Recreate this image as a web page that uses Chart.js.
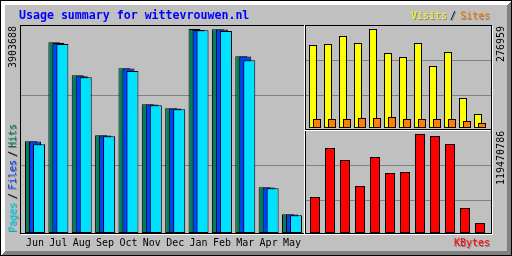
<!DOCTYPE html>
<html>
<head>
<meta charset="utf-8">
<script src="https://cdn.jsdelivr.net/npm/chart.js@4/dist/chart.umd.min.js"></script>
<style>
  html, body { margin: 0; padding: 0; background: #c0c0c0; }
  #wrap { position: relative; width: 512px; height: 256px; overflow: hidden; font-family: "DejaVu Sans Mono", "Liberation Mono", monospace; }
  canvas { position: absolute; left: 0; top: 0; }
  .t { position: absolute; white-space: pre; font-size: 10px; line-height: 13px; }
  .up { transform-origin: 0 0; transform: rotate(-90deg); }
  .sh { text-shadow: 1px 1px 0 #808080; }
  .up.sh { text-shadow: -1px 1px 0 #808080; }
  .slash { padding: 0 3px; }
</style>
</head>
<body>
<div id="wrap">
  <canvas id="main" width="512" height="256"></canvas>
  <canvas id="visits" width="512" height="256"></canvas>
  <canvas id="kbytes" width="512" height="256"></canvas>
</div>
<script>
// Webalizer style yearly usage summary, redrawn with Chart.js.

const months = ["Jun", "Jul", "Aug", "Sep", "Oct", "Nov", "Dec", "Jan", "Feb", "Mar", "Apr", "May"];
const hits   = [1754700, 3649200, 3017700, 1869600, 3151600, 2462800, 2386200, 3903688, 3897900, 3381300, 874500, 357800];
const files  = [1750000, 3635800, 2998600, 1865700, 3147800, 2458900, 2382400, 3884500, 3894100, 3377500, 870700, 354000];
const pages  = [1697300, 3616600, 2979400, 1850400, 3100000, 2443600, 2367100, 3878800, 3865400, 3304700, 855400, 338700];
const visits = [232200, 235000, 257400, 237800, 276959, 209800, 198600, 237800, 173500, 212600, 83900, 39200];
const sites  = [25200, 25200, 25200, 28000, 28000, 30800, 25200, 25200, 25200, 25200, 19600, 14000];
const kbytes = [43443900, 102575900, 88094600, 56718400, 91714900, 72406500, 73613300, 119470786, 117057200, 107403000, 30169400, 12067800];

const GREY = "#c0c0c0", DKGREY = "#808080", WHITE = "#ffffff", BLACK = "#000000";
const FONT = '"DejaVu Sans Mono", "Liberation Mono", monospace';

// plot areas in page pixels (bars grow up from .bottom, the max value reaches .top)
const MAIN = { left: 23.32, right: 303.68, top: 29, bottom: 233 };
const VIS  = { left: 307.5, right: 487.5, top: 29, bottom: 128 };
const KB   = { left: 307.5, right: 487.5, top: 134, bottom: 233 };

function hline(ctx, x1, x2, y, c) { ctx.fillStyle = c; ctx.fillRect(x1, y, x2 - x1 + 1, 1); }
function vline(ctx, x, y1, y2, c) { ctx.fillStyle = c; ctx.fillRect(x, y1, 1, y2 - y1 + 1); }

// grey card, bevel, inner frame, section lines and index lines
const framePlugin = {
  id: "frame",
  beforeDraw(chart) {
    const ctx = chart.ctx;
    ctx.save();
    ctx.fillStyle = GREY;
    ctx.fillRect(0, 0, 512, 256);
    for (let i = 0; i < 5; i++) {
      hline(ctx, i, 511 - i, i, WHITE);
      vline(ctx, i, i, 255 - i, WHITE);
      hline(ctx, i + 1, 511 - i, 255 - i, DKGREY);
      vline(ctx, 511 - i, i + 1, 255 - i, DKGREY);
    }
    ctx.strokeStyle = BLACK;
    ctx.lineWidth = 1;
    ctx.strokeRect(0.5, 0.5, 511, 255);

    // inner frame
    hline(ctx, 20, 491, 25, BLACK);
    vline(ctx, 20, 25, 233, BLACK);
    vline(ctx, 491, 25, 233, BLACK);
    hline(ctx, 20, 491, 233, BLACK);
    vline(ctx, 492, 26, 234, WHITE);
    hline(ctx, 21, 492, 234, WHITE);

    // section lines
    vline(ctx, 305, 25, 233, BLACK);
    vline(ctx, 304, 25, 233, WHITE);
    hline(ctx, 305, 490, 129, BLACK);
    hline(ctx, 305, 490, 130, WHITE);

    // index lines
    hline(ctx, 21, 303, 95, DKGREY);
    hline(ctx, 21, 303, 165, DKGREY);
    hline(ctx, 306, 490, 60, DKGREY);
    hline(ctx, 306, 490, 95, DKGREY);
    hline(ctx, 306, 490, 165, DKGREY);
    hline(ctx, 306, 490, 200, DKGREY);
    ctx.restore();
  }
};

// Chart.js paints dataset 0 last (on top); webalizer paints the later series over the earlier ones
const paintInOrder = {
  id: "paintInOrder",
  beforeDatasetsDraw(chart) {
    for (let i = 0; i < chart.data.datasets.length; i++) {
      chart.getDatasetMeta(i).controller.draw();
    }
    return false;
  }
};

function bar(data, color) {
  return { data, backgroundColor: color, borderColor: BLACK, borderWidth: 1, borderSkipped: false, clip: false };
}

function padFor(a, bottomAxis) {
  return { left: a.left, right: 512 - a.right, top: a.top, bottom: 256 - a.bottom - bottomAxis };
}

const baseOpts = {
  responsive: false,
  animation: false,
  events: [],
  plugins: { legend: { display: false }, tooltip: { enabled: false } }
};

// Hits / Files / Pages: bars 12px wide, each series shifted 4px
const mainCat = (MAIN.right - MAIN.left) / months.length;
new Chart(document.getElementById("main"), {
  type: "bar",
  data: {
    labels: months,
    datasets: [bar(hits, "#00805c"), bar(files, "#0040ff"), bar(pages, "#00e0ff")]
  },
  options: {
    ...baseOpts,
    layout: { padding: padFor(MAIN, 23) },
    datasets: { bar: { categoryPercentage: 12 / mainCat, barPercentage: 3 } },
    scales: {
      x: {
        type: "category",
        offset: true,
        grid: { display: false, drawTicks: false },
        border: { display: false },
        ticks: { color: BLACK, font: { family: FONT, size: 10 }, padding: 4, maxRotation: 0, autoSkip: false },
        afterFit: (s) => { s.height = 23; }
      },
      y: { display: false, min: 0, max: Math.max(...hits) }
    }
  },
  plugins: [framePlugin, paintInOrder]
});

// Visits / Sites: 8px bars, 4px shift
const sideCat = (VIS.right - VIS.left) / months.length;
new Chart(document.getElementById("visits"), {
  type: "bar",
  data: { labels: months, datasets: [bar(visits, "#ffff00"), bar(sites, "#ff8000")] },
  options: {
    ...baseOpts,
    layout: { padding: padFor(VIS, 0) },
    datasets: { bar: { categoryPercentage: 8 / sideCat, barPercentage: 2 } },
    scales: {
      x: { display: false, offset: true },
      y: { display: false, min: 0, max: Math.max(...visits) }
    }
  },
  plugins: [paintInOrder]
});

// KBytes: 10px bars
new Chart(document.getElementById("kbytes"), {
  type: "bar",
  data: { labels: months, datasets: [bar(kbytes, "#ff0000")] },
  options: {
    ...baseOpts,
    layout: { padding: padFor(KB, 0) },
    datasets: { bar: { categoryPercentage: 1, barPercentage: 10 / sideCat } },
    scales: {
      x: { display: false, offset: true },
      y: { display: false, min: 0, max: Math.max(...kbytes) }
    }
  }
});

// texts
const wrap = document.getElementById("wrap");
function text(str, x, y, color, cls, extra) {
  const d = document.createElement("div");
  d.className = "t " + (cls || "");
  d.textContent = str;
  d.style.left = x + "px";
  d.style.top = y + "px";
  d.style.color = color;
  if (extra) Object.assign(d.style, extra);
  wrap.appendChild(d);
  return d;
}
function legendUp(parts, x, y) {
  const d = text("", x, y, BLACK, "up sh");
  for (const [s, c] of parts) {
    const sp = document.createElement("span");
    sp.textContent = s;
    sp.style.color = c;
    if (s === "/") sp.className = "slash";
    d.appendChild(sp);
  }
}

text("Usage summary for wittevrouwen.nl", 19, 9, "#0000ff", "", { fontWeight: "bold", fontSize: "11.6px" });
text("Visits", 411, 9, "#ffff00", "sh");
text("/", 450, 9, BLACK, "sh");
text("Sites", 460, 9, "#ff8000", "sh");
text("KBytes", 454, 236, "#ff0000", "sh");

const maxHits = String(Math.max(...hits));
const maxVisits = String(Math.max(...visits));
const maxKb = String(Math.max(...kbytes));
text(maxHits, 6, 26 + maxHits.length * 6, BLACK, "up");
text(maxVisits, 494, 26 + maxVisits.length * 6, BLACK, "up");
text(maxKb, 494, 131 + maxKb.length * 6, BLACK, "up");
legendUp([["Pages", "#00e0ff"], ["/", BLACK], ["Files", "#0040ff"], ["/", BLACK], ["Hits", "#00805c"]], 6, 232);
</script>
</body>
</html>
